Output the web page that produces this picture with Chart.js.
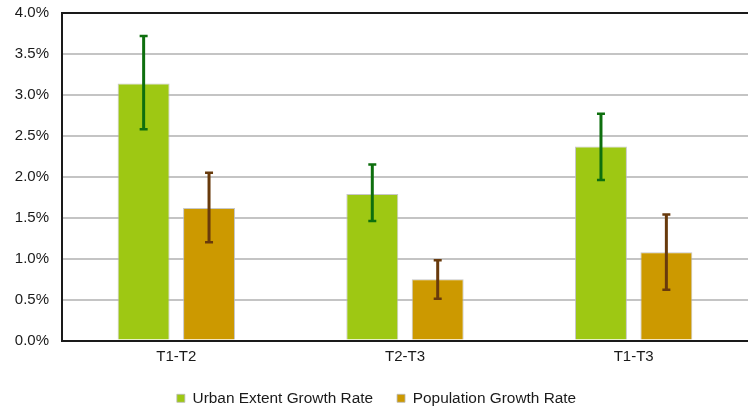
<!DOCTYPE html>
<html>
<head>
<meta charset="utf-8">
<script src="https://cdn.jsdelivr.net/npm/chart.js@4/dist/chart.umd.min.js"></script>
<style>
  html, body { margin: 0; padding: 0; background: #ffffff; }
  #wrap { width: 748px; height: 407px; position: relative; }
</style>
</head>
<body>
<div id="wrap"><canvas id="chart"></canvas></div>
<script>
// Periods compared
const categories = ['T1-T2', 'T2-T3', 'T1-T3'];

// Annual growth rates, in percent
const urbanRate = [3.14, 1.79, 2.37];
const urbanLow  = [2.58, 1.46, 1.96];
const urbanHigh = [3.72, 2.15, 2.77];

const popRate = [1.62, 0.75, 1.08];
const popLow  = [1.20, 0.51, 0.62];
const popHigh = [2.05, 0.98, 1.54];

const seriesNames = ['Urban Extent Growth Rate', 'Population Growth Rate'];

// Vertical error bars with end caps, placed with the chart's own scales
const errorBars = {
  id: 'errorBars',
  afterDatasetsDraw(chart) {
    const ctx = chart.ctx;
    const y = chart.scales.y;
    chart.data.datasets.forEach((ds, di) => {
      const meta = chart.getDatasetMeta(di);
      meta.data.forEach((bar, i) => {
        const top = y.getPixelForValue(ds.errHigh[i]);
        const bot = y.getPixelForValue(ds.errLow[i]);
        ctx.save();
        ctx.strokeStyle = ds.errColor;
        ctx.lineWidth = 3;
        ctx.beginPath();
        ctx.moveTo(bar.x, top);
        ctx.lineTo(bar.x, bot);
        ctx.stroke();
        ctx.lineWidth = 2.5;
        ctx.beginPath();
        ctx.moveTo(bar.x - 4, top);
        ctx.lineTo(bar.x + 4, top);
        ctx.moveTo(bar.x - 4, bot);
        ctx.lineTo(bar.x + 4, bot);
        ctx.stroke();
        ctx.restore();
      });
    });
  }
};

const font = { family: '"Liberation Sans", Arial, sans-serif', size: 15 };
const legendFont = { family: '"Liberation Sans", Arial, sans-serif', size: 15.4 };

new Chart(document.getElementById('chart'), {
  type: 'bar',
  data: {
    labels: categories,
    datasets: [
      {
        label: seriesNames[0],
        data: urbanRate,
        errLow: urbanLow,
        errHigh: urbanHigh,
        errColor: '#0e6f0e',
        backgroundColor: '#9ec813',
        borderColor: 'rgba(185,185,185,0.8)',
        borderWidth: 1
      },
      {
        label: seriesNames[1],
        data: popRate,
        errLow: popLow,
        errHigh: popHigh,
        errColor: '#683a0c',
        backgroundColor: '#cc9900',
        borderColor: 'rgba(185,185,185,0.8)',
        borderWidth: 1
      }
    ]
  },
  options: {
    responsive: true,
    maintainAspectRatio: false,
    animation: false,
    devicePixelRatio: 1,
    datasets: {
      bar: { categoryPercentage: 0.572, barPercentage: 0.794 }
    },
    layout: { padding: { top: 13, left: 5, right: 0, bottom: -9 } },
    plugins: {
      tooltip: { enabled: false },
      legend: {
        position: 'bottom',
        labels: {
          font: legendFont,
          color: '#1a1a1a',
          boxWidth: 8,
          boxHeight: 8,
          padding: 24,
          useBorderRadius: false
        }
      }
    },
    scales: {
      x: {
        grid: { display: false, drawTicks: false },
        border: { display: true, color: '#1a1a1a', width: 2 },
        ticks: { font: font, color: '#1a1a1a', padding: 7 },
        afterFit(s) { s.height = 26; }
      },
      y: {
        min: 0,
        max: 4,
        ticks: {
          stepSize: 0.5,
          font: font,
          color: '#1a1a1a',
          padding: 13,
          callback: v => v.toFixed(1) + '%'
        },
        grid: {
          drawTicks: false,
          lineWidth: 2,
          color: c => (c.tick && c.tick.value === 4 ? '#1a1a1a' : '#c4c4c4')
        },
        border: { display: true, color: '#1a1a1a', width: 2 },
        afterFit(s) { s.width = 57; s.paddingTop = 0; s.paddingBottom = 0; }
      }
    }
  },
  plugins: [errorBars]
});
</script>
</body>
</html>
